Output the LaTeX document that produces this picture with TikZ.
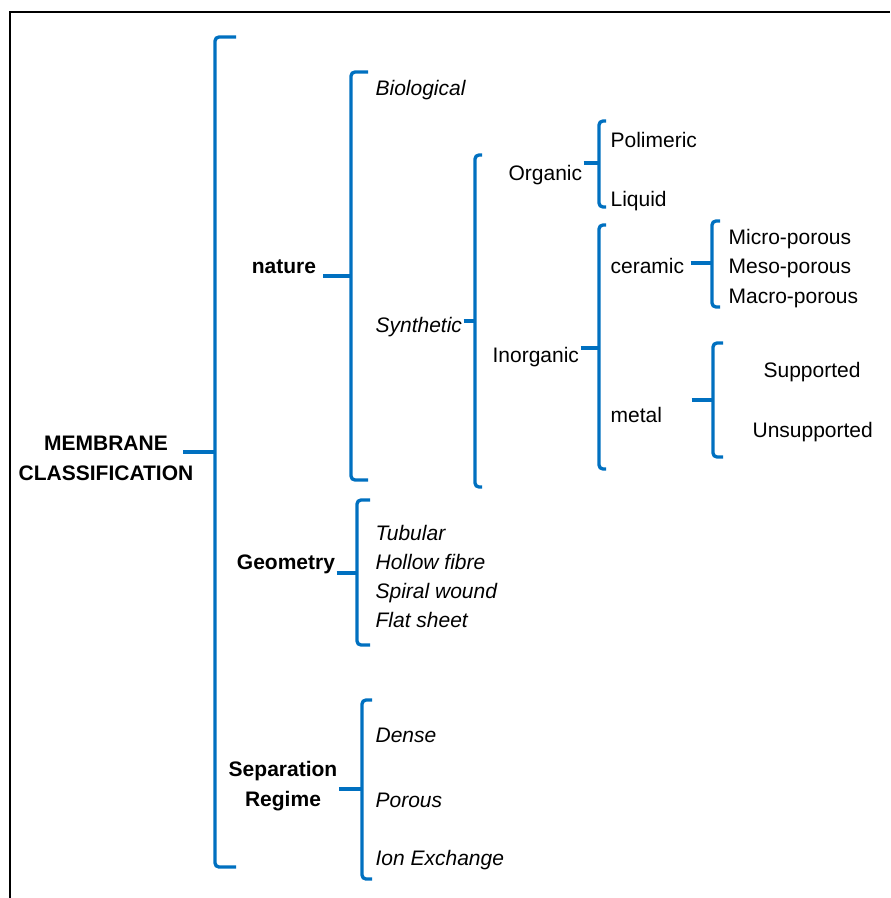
\documentclass[tikz,border=0pt]{standalone}
\usepackage{fontspec}
\setmainfont{Liberation Sans}
\usetikzlibrary{positioning}
\definecolor{brblue}{RGB}{0,112,192}

\begin{document}
\begin{tikzpicture}[x=0.75pt,y=-0.75pt]
 \tikzset{
 	brkt/.style={draw=brblue, line width=2.5pt, rounded corners=3pt},
 	stub/.style={draw=brblue, line width=2.5pt},
 	lbl/.style={anchor=base west, inner sep=1pt,
 		font=\fontsize{15.75}{22.5}\selectfont},
 	ilbl/.style={lbl, font=\fontsize{15.75}{22.5}\selectfont\itshape},
 	blbl/.style={anchor=base, inner sep=1pt, align=center,
 		font=\fontsize{15.75}{22.5}\selectfont\bfseries}
 }
 \useasboundingbox (0,0) rectangle (890,898);
 % frame
 \draw[line width=2pt] (10,898) -- (10,12) -- (890,12);

 % brackets
 \draw[brkt] (236,37) -- (215,37) -- (215,867) -- (236,867);
 \coordinate (mainB) at (215,452);
 \draw[brkt] (368,72) -- (351,72) -- (351,480) -- (368,480);
 \coordinate (natB) at (351,276);
 \draw[brkt] (482,155) -- (475,155) -- (475,487) -- (482,487);
 \coordinate (synB) at (475,321);
 \draw[brkt] (606,121) -- (599,121) -- (599,207) -- (606,207);
 \coordinate (orgB) at (599,163);
 \draw[brkt] (606,225) -- (599,225) -- (599,469) -- (606,469);
 \coordinate (inoB) at (599,348);
 \draw[brkt] (720,221) -- (712,221) -- (712,307) -- (720,307);
 \coordinate (cerB) at (712,263);
 \draw[brkt] (723,343) -- (713,343) -- (713,457) -- (723,457);
 \coordinate (metB) at (713,400);
 \draw[brkt] (370,500) -- (357,500) -- (357,645) -- (370,645);
 \coordinate (geoB) at (357,573);
 \draw[brkt] (372,700) -- (362,700) -- (362,879) -- (372,879);
 \coordinate (sepB) at (362,789);

 % labels
 \node[blbl, anchor=center] (memb) at (106,458) {MEMBRANE\\CLASSIFICATION};
 \node[blbl] (nat) at (284,273) {nature};
 \node[blbl] (geo) at (286,569) {Geometry};
 \node[blbl, anchor=center] (sep) at (283,786) {Separation\\Regime};

 \node[ilbl] (bio) at (374,96) {Biological};
 \node[ilbl] (syn) at (374,332) {Synthetic};
 \node[lbl] (org) at (507,181) {Organic};
 \node[lbl] (pol) at (609,148) {Polimeric};
 \node[lbl] (liq) at (609,207) {Liquid};
 \node[lbl] (ino) at (491,362) {Inorganic};
 \node[lbl] (cer) at (609,273) {ceramic};
 \node[lbl] (met) at (609,422) {metal};
 \node[lbl] (mic) at (727,245) {Micro-porous};
 \node[lbl] (mes) at (727,273) {Meso-porous};
 \node[lbl] (mac) at (727,303) {Macro-porous};
 \node[lbl] (sup) at (762,377) {Supported};
 \node[lbl] (uns) at (751,437) {Unsupported};
 \node[ilbl] (tub) at (374,540) {Tubular};
 \node[ilbl] (hol) at (374,569) {Hollow fibre};
 \node[ilbl] (spi) at (374,598) {Spiral wound};
 \node[ilbl] (fla) at (374,627) {Flat sheet};
 \node[ilbl] (den) at (374,742) {Dense};
 \node[ilbl] (por) at (374,807) {Porous};
 \node[ilbl] (ion) at (374,865) {Ion Exchange};

 % stubs
 \draw[stub] ([xshift=-24pt]mainB) -- (mainB);
 \draw[stub] ([xshift=-21pt]natB) -- (natB);
 \draw[stub] (syn.east |- synB) -- (synB);
 \draw[stub] (org.east |- orgB) -- (orgB);
 \draw[stub] (ino.east |- inoB) -- (inoB);
 \draw[stub] ([xshift=-16pt]cerB) -- (cerB);
 \draw[stub] ([xshift=-16pt]metB) -- (metB);
 \draw[stub] (geo.east |- geoB) -- (geoB);
 \draw[stub] (sep.east |- sepB) -- (sepB);
\end{tikzpicture}
\end{document}
